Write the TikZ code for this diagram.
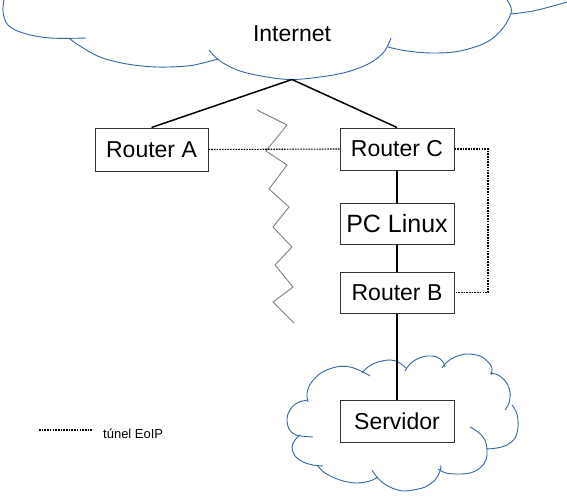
\documentclass[tikz,border=0pt]{standalone}
\usepackage{fontspec}
\setmainfont{Liberation Sans}
\definecolor{cloudblue}{RGB}{52,101,164}
\definecolor{boxgray}{RGB}{51,51,51}
\definecolor{zig}{RGB}{128,128,128}
\begin{document}
\begin{tikzpicture}[x=1pt,y=-1pt,
  cloudline/.style={draw=cloudblue,line width=0.9pt},
  box/.style={draw=boxgray,fill=white,line width=1pt,minimum width=114pt,minimum height=42pt,inner sep=0pt,font=\fontsize{23}{27}\selectfont},
  link/.style={draw=black,line width=1.5pt},
  tunnel/.style={draw=black,line width=1.1pt,dash pattern=on 1.6pt off 1.1pt},
  zigline/.style={draw=zig,line width=0.9pt}]
\useasboundingbox (0,0) rectangle (567,500);
% Internet cloud (bottom part)
\draw[cloudline] plot[smooth,tension=0.6] coordinates {(4,0) (3,12) (8,25) (23,33) (50,38) (86,38)};
\draw[cloudline] plot[smooth,tension=0.6] coordinates {(70,39) (80,46) (100,57) (127,64) (157,67) (187,66) (203,63) (218,59)};
\draw[cloudline] plot[smooth,tension=0.6] coordinates {(209,50) (220,61) (240,71) (267,77) (292,79.5) (320,77) (347,72) (370,63) (383,53) (388,45) (391,38)};
\draw[cloudline] plot[smooth,tension=0.6] coordinates {(388,47) (407,51) (433,53) (460,51) (487,42) (503,28) (511,13) (510,5) (507,0)};
\draw[cloudline] plot[smooth,tension=0.6] coordinates {(511,14) (533,11) (553,6) (567,2)};
\node[font=\fontsize{23}{27}\selectfont,inner sep=0pt] (inet) at (292,34) {Internet};
% Servidor cloud
\draw[cloudline] plot[smooth,tension=0.6] coordinates {(370,376) (363,372) (350,367) (336,367) (321,373) (311,383) (307,393) (308,402)};
\draw[cloudline] plot[smooth,tension=0.6] coordinates {(362,373) (368,367) (378,362) (390,360) (398,362) (406,368)};
\draw[cloudline] plot[smooth,tension=0.6] coordinates {(405,371) (410,364) (417,359) (427,356) (437,357) (443,362) (445,367)};
\draw[cloudline] plot[smooth,tension=0.6] coordinates {(442,368) (447,362) (455,357) (467,354) (480,356) (488,362) (492,368) (491,375)};
\draw[cloudline] plot[smooth,tension=0.6] coordinates {(490,373) (498,375) (506,382) (510,392) (509,403) (505,410)};
\draw[cloudline] plot[smooth,tension=0.6] coordinates {(512,405) (517,414) (518,427) (515,438) (507,445) (497,448) (486,449)};
\draw[cloudline] plot[smooth,tension=0.6] coordinates {(470,427) (478,432) (485,440) (487,450) (486,460) (480,468) (470,473) (458,474) (446,473) (438,469)};
\draw[cloudline] plot[smooth,tension=0.6] coordinates {(441,465) (440,471) (435,480) (425,487) (413,490) (403,491) (392,488) (383,483) (376,476) (372,470)};
\draw[cloudline] plot[smooth,tension=0.6] coordinates {(378,477) (370,481) (356,483) (340,480) (325,473) (318,466)};
\draw[cloudline] plot[smooth,tension=0.6] coordinates {(323,466) (313,465) (303,462) (295,456) (292,447) (295,440) (300,435)};
\draw[cloudline] plot[smooth,tension=0.6] coordinates {(308,400) (299,402) (292,407) (288,414) (287,421) (289,429) (294,434) (301,436) (313,437)};
% zigzag
\draw[zigline] (257,110) -- (287,125) -- (266,151) -- (287,165) -- (269,189) -- (289,207) -- (273,227) -- (292,247) -- (275,265) -- (293,287) -- (273,302) -- (294,323);
% nodes
\coordinate (apex) at (292,79.5);
\node[box,minimum width=113pt,minimum height=43pt] (ra) at (151.5,149.5) {Router A};
\node[box] (rc) at (397,149) {Router C};
\node[box,minimum height=41pt,font=\fontsize{25}{29}\selectfont] (pc) at (397,223.5) {PC Linux};
\node[box,minimum height=41pt] (rb) at (397,292.5) {Router B};
\node[box] (sv) at (397,421) {Servidor};
% links
\draw[link] (apex) -- (ra.north);
\draw[link] (apex) -- (rc.north);
\draw[link] (rc.south) -- (pc.north);
\draw[link] (pc.south) -- (rb.north);
\draw[link] (rb.south) -- (sv.north);
% tunnel
\coordinate (tr) at (488,149);
\draw[tunnel] (ra.east) -- (rc.west);
\draw[tunnel] (rc.east) -- (tr) |- (rb.east);
% legend
\coordinate (lg1) at (39,430);
\coordinate (lg2) at (93,430);
\draw[tunnel] (lg1) -- (lg2);
\node[anchor=base west,inner sep=0pt,font=\fontsize{13}{15}\selectfont] (lgt) at (103,438) {túnel EoIP};
\end{tikzpicture}
\end{document}
